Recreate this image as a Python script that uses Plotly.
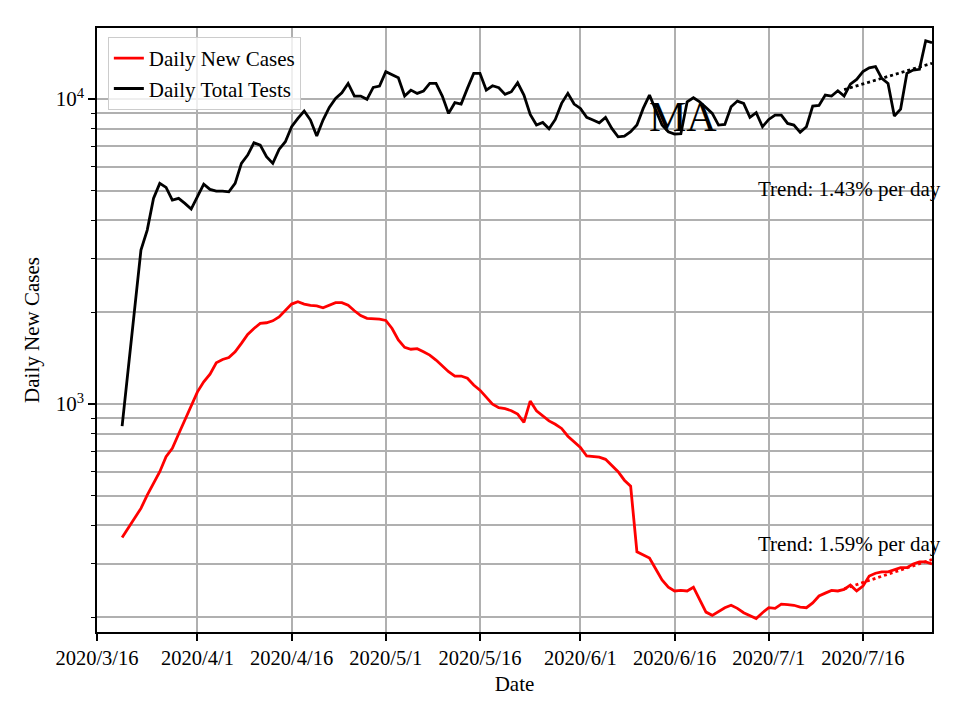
import pandas as pd
import numpy as np
import plotly.graph_objects as go

# ---- data ----
start_date = "2020-03-20"

daily_tests = [
    847, 1325, 2085, 3200, 3720, 4725, 5290, 5135, 4665, 4725,
    4550, 4360, 4785, 5260, 5055, 4990, 4990, 4965, 5290, 6155,
    6550, 7190, 7065, 6470, 6155, 6840, 7245, 8115, 8640, 9135,
    8535, 7562, 8535, 9390, 10050, 10490, 11255, 10230, 10230, 9980,
    10920, 11030, 12300, 12000, 11746, 10230, 10700, 10440, 10620, 11255,
    11255, 10230, 8975, 9730, 9630, 10840, 12140, 12140, 10700, 11057,
    10890, 10360, 10570, 11310, 10310, 8910, 8220, 8385, 7990, 8575,
    9680, 10440, 9630, 9320, 8710, 8535, 8360, 8710, 8015, 7520,
    7562, 7815, 8220, 9320, 10310, 9200, 8220, 7815, 7680, 7700,
    9800, 10100, 9800, 9390, 8975, 8220, 8260, 9435, 9850, 9680,
    8710, 9020, 8115, 8575, 8860, 8860, 8320, 8220, 7780, 8115,
    9485, 9535, 10310, 10230, 10650, 10230, 11200, 11600, 12300, 12660,
    12770, 11690, 11255, 8800, 9270, 12140, 12450, 12520, 15530, 15300,
]

daily_cases = [
    365, 394, 424, 455, 503, 550, 600, 672, 716, 798,
    886, 979, 1097, 1183, 1254, 1366, 1400, 1422, 1485, 1581,
    1692, 1770, 1838, 1848, 1875, 1932, 2033, 2128, 2165, 2128,
    2107, 2100, 2070, 2107, 2150, 2150, 2110, 2023, 1950, 1910,
    1910, 1900, 1880, 1770, 1622, 1535, 1513, 1520, 1485, 1448,
    1394, 1333, 1277, 1236, 1236, 1215, 1155, 1111, 1052, 1000,
    973, 966, 951, 927, 871, 1023, 951, 913, 881, 859,
    832, 785, 752, 721, 676, 672, 670, 659, 631, 600,
    563, 538, 328, 320, 313, 288, 265, 251, 244, 245,
    244, 251, 228, 208, 203, 209, 215, 219, 214, 207,
    203, 198, 207, 215, 214, 221, 220, 219, 216, 215,
    223, 235, 240, 245, 244, 247, 255, 244, 253, 273,
    279, 282, 282, 287, 291, 291, 299, 304, 304, 299,
]

# trend lines (last 15 days)
trend_days = 15
tests_trend_start = 10740
tests_trend_rate = 0.0143
cases_trend_start = 248
cases_trend_rate = 0.0159
tests_trend_label = "Trend: 1.43% per day"
cases_trend_label = "Trend: 1.59% per day"

tick_dates = ["2020-03-16", "2020-04-01", "2020-04-16", "2020-05-01", "2020-05-16",
              "2020-06-01", "2020-06-16", "2020-07-01", "2020-07-16"]
tick_labels = ["2020/3/16", "2020/4/1", "2020/4/16", "2020/5/1", "2020/5/16",
               "2020/6/1", "2020/6/16", "2020/7/1", "2020/7/16"]

y_major = [1000, 10000]
y_major_text = ["10<sup>3</sup>", "10<sup>4</sup>"]
y_minor = [200, 300, 400, 500, 600, 700, 800, 900,
           2000, 3000, 4000, 5000, 6000, 7000, 8000, 9000]

state_name = "MA"

# ---- build ----
dates = pd.date_range(start_date, periods=len(daily_tests), freq="D")
trend_dates = dates[-trend_days:]
k = np.arange(trend_days)
tests_trend = tests_trend_start * (1 + tests_trend_rate) ** k
cases_trend = cases_trend_start * (1 + cases_trend_rate) ** k

FONT = "Liberation Serif"

fig = go.Figure()
fig.add_trace(go.Scatter(x=dates, y=daily_cases, mode="lines", name="Daily New Cases",
                         line=dict(color="red", width=2.8)))
fig.add_trace(go.Scatter(x=dates, y=daily_tests, mode="lines", name="Daily Total Tests",
                         line=dict(color="black", width=2.8)))
fig.add_trace(go.Scatter(x=trend_dates, y=cases_trend, mode="lines", showlegend=False,
                         line=dict(color="red", width=2.8, dash="dot")))
fig.add_trace(go.Scatter(x=trend_dates, y=tests_trend, mode="lines", showlegend=False,
                         line=dict(color="black", width=2.8, dash="dot")))

fig.add_annotation(x=dates[101], y=np.log10(5070), text=tests_trend_label,
                   xref="x", yref="y", showarrow=False, xanchor="left", yanchor="middle",
                   font=dict(family=FONT, size=21, color="black"))
fig.add_annotation(x=dates[101], y=np.log10(347), text=cases_trend_label,
                   xref="x", yref="y", showarrow=False, xanchor="left", yanchor="middle",
                   font=dict(family=FONT, size=21, color="black"))
fig.add_annotation(x=0.702, y=0.852, xref="paper", yref="paper", text=state_name,
                   showarrow=False, xanchor="center", yanchor="middle",
                   font=dict(family=FONT, size=42, color="black"))

# page body has an 8px margin: compensate so the plot area lands where the reference has it
fig.update_layout(
    width=952, height=712,
    margin=dict(l=89, r=28, t=20, b=88),
    paper_bgcolor="white", plot_bgcolor="white",
    font=dict(family=FONT, size=20, color="black"),
    legend=dict(x=0.013, y=0.985, xanchor="left", yanchor="top",
                bgcolor="rgba(255,255,255,0.8)", bordercolor="#cccccc", borderwidth=1,
                font=dict(family=FONT, size=21)),
)

fig.update_xaxes(
    range=["2020-03-16", dates[-1]],
    tickmode="array", tickvals=tick_dates, ticktext=tick_labels,
    ticks="outside", ticklen=7, tickwidth=1.6, tickcolor="black",
    showgrid=True, gridcolor="#b0b0b0", gridwidth=1.6,
    showline=True, linecolor="black", linewidth=1.6, mirror=True,
    zeroline=False,
    title=dict(text="Date", font=dict(family=FONT, size=21), standoff=8),
    tickfont=dict(family=FONT, size=20.5),
)

fig.update_yaxes(
    type="log",
    range=[np.log10(179), np.log10(17100)],
    tickmode="array", tickvals=y_major, ticktext=y_major_text,
    ticks="outside", ticklen=7, tickwidth=1.6, tickcolor="black",
    showgrid=True, gridcolor="#b0b0b0", gridwidth=1.6,
    minor=dict(tickmode="array", tickvals=y_minor, ticks="outside", ticklen=4,
               tickwidth=1.2, tickcolor="black", showgrid=True,
               gridcolor="#b0b0b0", gridwidth=1.6),
    showline=True, linecolor="black", linewidth=1.6, mirror=True,
    zeroline=False,
    title=dict(text="Daily New Cases", font=dict(family=FONT, size=21), standoff=10),
    tickfont=dict(family=FONT, size=21),
)

fig.write_html("out.html")
